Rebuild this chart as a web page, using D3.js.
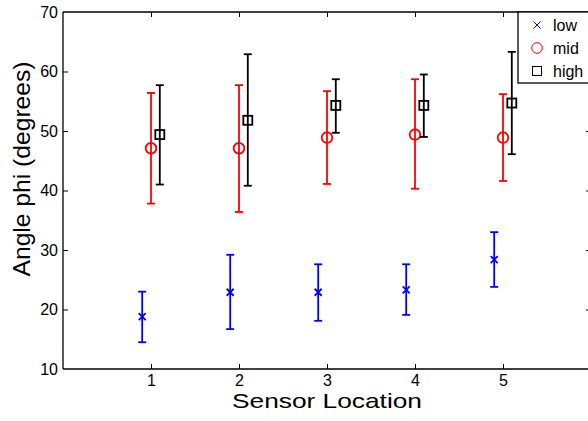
<!DOCTYPE html>
<html>
<head>
<meta charset="utf-8">
<script src="https://cdn.jsdelivr.net/npm/d3@7"></script>
<style>
  body { margin: 0; background: #fff; }
  svg { display: block; font-family: "Liberation Sans", Arial, sans-serif; }
</style>
</head>
<body>
<svg id="chart" width="588" height="421"></svg>
<script>
// Data
var locations = [1, 2, 3, 4, 5];
var lowMean = [18.8, 22.9, 22.9, 23.3, 28.4];
var lowUpper = [23.0, 29.2, 27.6, 27.6, 33.0];
var lowLower = [14.5, 16.7, 18.1, 19.1, 23.8];
var midMean = [47.1, 47.1, 48.9, 49.4, 48.9];
var midUpper = [56.4, 57.7, 56.7, 58.7, 56.2];
var midLower = [37.8, 36.4, 41.1, 40.3, 41.6];
var highMean = [49.4, 51.8, 54.3, 54.3, 54.7];
var highUpper = [57.7, 62.9, 58.7, 59.5, 63.3];
var highLower = [41.0, 40.8, 49.7, 49.0, 46.1];
var yTicks = [10, 20, 30, 40, 50, 60, 70];

var series = [
  { name: "low", color: "#0000ff", marker: "x", offset: -0.1, mean: lowMean, up: lowUpper, lo: lowLower },
  { name: "mid", color: "#ff0000", marker: "o", offset: 0, mean: midMean, up: midUpper, lo: midLower },
  { name: "high", color: "#000000", marker: "s", offset: 0.1, mean: highMean, up: highUpper, lo: highLower }
];

var svg = d3.select("#chart");
var plotL = 63, plotR = 591, plotT = 12, plotB = 369;

var x = d3.scaleLinear().domain([0, 6]).range([plotL, plotR]);
var y = d3.scaleLinear().domain([10, 70]).range([plotB, plotT]);

// axes (matlab style: ticks inside, full box)
var gx = svg.append("g").attr("transform", "translate(0," + plotB + ")")
  .call(d3.axisBottom(x).tickValues(locations).tickSize(-5).tickPadding(6).tickFormat(d3.format("d")));
var gxt = svg.append("g").attr("transform", "translate(0," + plotT + ")")
  .call(d3.axisTop(x).tickValues(locations).tickSize(-5).tickFormat(""));
var gy = svg.append("g").attr("transform", "translate(" + plotL + ",0)")
  .call(d3.axisLeft(y).tickValues(yTicks).tickSize(-5).tickPadding(5).tickFormat(d3.format("d")));
var gyr = svg.append("g").attr("transform", "translate(" + plotR + ",0)")
  .call(d3.axisRight(y).tickValues(yTicks).tickSize(-5).tickFormat(""));

[gx, gxt, gy, gyr].forEach(function(g) {
  g.attr("font-size", null).attr("font-family", null);
  g.selectAll("path").attr("stroke", "#000").attr("stroke-width", 1.3);
  g.selectAll("line").attr("stroke", "#000").attr("stroke-width", 1);
  g.selectAll("text").style("font-size", "16px").attr("fill", "#000");
});
gx.select(".domain").attr("d", "M" + plotL + ",0H" + plotR);
gxt.select(".domain").attr("d", "M" + plotL + ",0H" + plotR);
gy.select(".domain").attr("d", "M0," + plotB + "V" + plotT);
gyr.select(".domain").attr("d", "M0," + plotB + "V" + plotT);
// no ticks in the corners
gy.selectAll(".tick line").filter(function(d) { return d === 10 || d === 70; }).remove();
gyr.selectAll(".tick line").filter(function(d) { return d === 10 || d === 70; }).remove();

// axis labels (matlab text renders a bit wide)
svg.append("text")
  .attr("x", (plotL + plotR) / 2).attr("y", 408)
  .attr("text-anchor", "middle").style("font-size", "21px")
  .attr("textLength", 190).attr("lengthAdjust", "spacingAndGlyphs")
  .text("Sensor Location");
svg.append("text")
  .attr("transform", "translate(30,169) rotate(-90)")
  .attr("text-anchor", "middle").style("font-size", "24px")
  .attr("textLength", 215).attr("lengthAdjust", "spacingAndGlyphs")
  .text("Angle phi (degrees)");

function drawMarker(g, type, color, cx, cy, sw) {
  if (type === "x") {
    var s = 3.5;
    g.append("path")
      .attr("d", "M" + (cx - s) + "," + (cy - s) + "L" + (cx + s) + "," + (cy + s) +
                 "M" + (cx - s) + "," + (cy + s) + "L" + (cx + s) + "," + (cy - s))
      .attr("stroke", color).attr("stroke-width", sw).attr("fill", "none");
  } else if (type === "o") {
    g.append("circle").attr("cx", cx).attr("cy", cy).attr("r", 5.3)
      .attr("stroke", color).attr("stroke-width", sw).attr("fill", "none");
  } else {
    g.append("rect").attr("x", cx - 4.5).attr("y", cy - 4.5).attr("width", 9).attr("height", 9)
      .attr("stroke", color).attr("stroke-width", sw).attr("fill", "none");
  }
}

// error bars
series.forEach(function(s) {
  var g = svg.append("g");
  locations.forEach(function(loc, i) {
    var cx = x(loc + s.offset);
    var yt = y(s.up[i]), yb = y(s.lo[i]);
    g.append("line").attr("x1", cx).attr("x2", cx).attr("y1", yt).attr("y2", yb)
      .attr("stroke", s.color).attr("stroke-width", 1.8);
    [yt, yb].forEach(function(yy) {
      g.append("line").attr("x1", cx - 4).attr("x2", cx + 4).attr("y1", yy).attr("y2", yy)
        .attr("stroke", s.color).attr("stroke-width", 1.8);
    });
    drawMarker(g, s.marker, s.color, cx, y(s.mean[i]), 1.8);
  });
});

// legend
var lg = svg.append("g");
lg.append("rect").attr("x", 518).attr("y", plotT).attr("width", 90).attr("height", 71)
  .attr("fill", "#fff").attr("stroke", "#000").attr("stroke-width", 1.3);
series.forEach(function(s, i) {
  var ly = 25 + i * 23;
  drawMarker(lg, s.marker, s.color, 537, ly, 1);
  lg.append("text").attr("x", 553).attr("y", ly + 5.5).style("font-size", "16px").text(s.name);
});
</script>
</body>
</html>
